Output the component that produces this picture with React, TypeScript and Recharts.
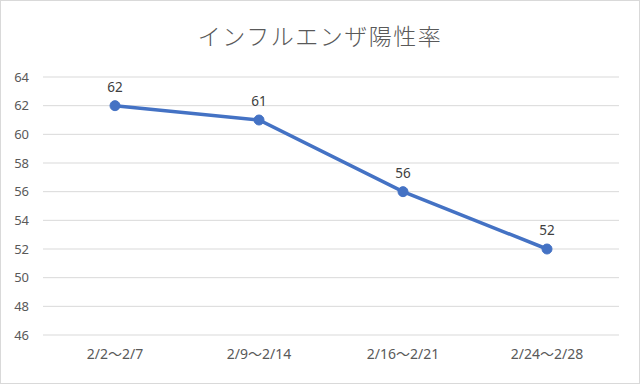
import React from "react";
import {
  LineChart,
  Line,
  XAxis,
  YAxis,
  CartesianGrid,
  LabelList,
} from "recharts";

const categories = ["2/2〜2/7", "2/9〜2/14", "2/16〜2/21", "2/24〜2/28"];
const positiveRate = [62, 61, 56, 52];
const yTicks = [46, 48, 50, 52, 54, 56, 58, 60, 62, 64];

const data = categories.map((label, i) => ({ label, value: positiveRate[i] }));

const textFont = "'Noto Sans', 'Noto Sans CJK JP', sans-serif";

export default function App() {
  return (
    <div
      style={{
        position: "absolute",
        left: 0,
        top: 0,
        width: 640,
        height: 384,
        background: "#fff",
        boxSizing: "border-box",
        border: "1px solid #d9d9d9",
        fontFamily: textFont,
      }}
    >
      <div
        style={{
          position: "absolute",
          left: 0,
          top: 17,
          width: 638,
          textAlign: "center",
          fontSize: 23,
          fontWeight: 300,
          color: "#595959",
          fontFamily: "'Noto Sans CJK JP', sans-serif",
          letterSpacing: 1.5,
        }}
      >
        インフルエンザ陽性率
      </div>
      <div style={{ position: "absolute", left: -1, top: -1 }}>
        <LineChart
          width={640}
          height={384}
          data={data}
          margin={{ top: 77, right: 21, bottom: 0, left: 0 }}
        >
          <CartesianGrid vertical={false} stroke="#d9d9d9" strokeWidth={1} />
          <XAxis
            dataKey="label"
            type="category"
            axisLine={false}
            tickLine={false}
            tickSize={0}
            tickMargin={14}
            height={49}
            interval={0}
            padding={{ left: 72, right: 72 }}
            tick={{ fill: "#595959", fontSize: 14, fontFamily: textFont }}
          />
          <YAxis
            type="number"
            domain={[46, 64]}
            ticks={yTicks}
            width={43}
            axisLine={false}
            tickLine={false}
            tickSize={0}
            tickMargin={14}
            interval={0}
            tick={{ fill: "#595959", fontSize: 13, fontFamily: textFont }}
          />
          <Line
            dataKey="value"
            stroke="#4472C4"
            strokeWidth={3.5}
            dot={{ r: 5, fill: "#4472C4", stroke: "#4472C4", strokeWidth: 1 }}
            isAnimationActive={false}
          >
            <LabelList
              dataKey="value"
              position="top"
              offset={14}
              fill="#404040"
              fontSize={13.5}
              fontFamily={textFont}
            />
          </Line>
        </LineChart>
      </div>
    </div>
  );
}
